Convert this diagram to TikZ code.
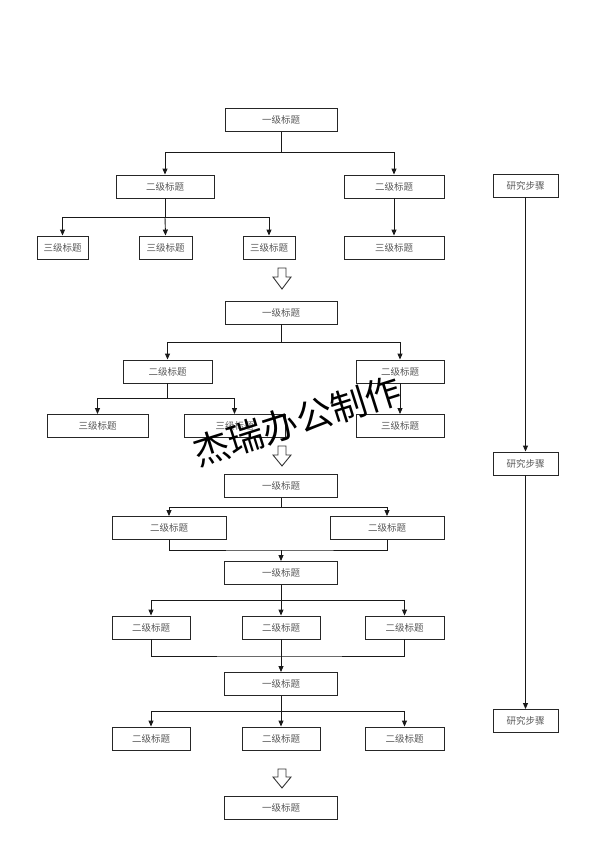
\documentclass[tikz,border=0pt]{standalone}
\usepackage{fontspec}
\newfontfamily\cjk{Noto Sans CJK SC}
\usetikzlibrary{arrows.meta}
\tikzset{
  box/.style={draw=black!85, line width=0.9pt, text=black!65, inner sep=0pt,
    minimum height=23pt, font=\cjk\fontsize{9.5}{11}\selectfont},
  conn/.style={draw=black!90, line width=0.9pt},
  arr/.style={conn, -{Triangle[length=6pt,width=5pt]}},
  hollow/.style={draw=black!80, line width=0.9pt, fill=white},
}
\begin{document}
\begin{tikzpicture}[x=1pt,y=-1pt]
\useasboundingbox (0,0) rectangle (594,841);
% section 1
\node[box, minimum width=112pt] (A1) at (281,120) {一级标题};
\node[box, minimum width=98pt] (B1) at (165,186.5) {二级标题};
\node[box, minimum width=100pt] (B2) at (394,186.5) {二级标题};
\node[box, minimum width=51pt] (C1) at (62.5,247.5) {三级标题};
\node[box, minimum width=53pt] (C2) at (165.5,247.5) {三级标题};
\node[box, minimum width=52pt] (C3) at (269,247.5) {三级标题};
\node[box, minimum width=100pt] (C4) at (394,247.5) {三级标题};
\coordinate (j1) at (281,152);
\coordinate (j2) at (165,217);
\draw[conn] (A1.south) -- (j1);
\draw[arr] (j1) -| (B1.north);
\draw[arr] (j1) -| (B2.north);
\draw[conn] (B1.south) -- (j2);
\draw[arr] (j2) -| (C1.north);
\draw[arr] (j2) -| (C3.north);
\draw[arr] (j2) -- (C2.north);
\draw[arr] (B2.south) -- (C4.north);
% hollow arrow 1
\coordinate (h1) at (282,268);
\draw[hollow] (h1) ++(-4,0) -- ++(8,0) -- ++(0,9) -- ++(5,0) -- ++(-9,12) -- ++(-9,-12) -- ++(5,0) -- cycle;
% section 2
\node[box, minimum width=112pt] (A2) at (281,312.5) {一级标题};
\node[box, minimum width=89pt] (B3) at (167.5,371.5) {二级标题};
\node[box, minimum width=88pt] (B4) at (400,371.5) {二级标题};
\node[box, minimum width=101pt] (C5) at (97.5,426) {三级标题};
\node[box, minimum width=101pt] (C6) at (234.5,426) {三级标题};
\node[box, minimum width=88pt] (C7) at (400,426) {三级标题};
\coordinate (j3) at (281,342);
\coordinate (j4) at (167.5,398);
\draw[conn] (A2.south) -- (j3);
\draw[arr] (j3) -| (B3.north);
\draw[arr] (j3) -| (B4.north);
\draw[conn] (B3.south) -- (j4);
\draw[arr] (j4) -| (C5.north);
\draw[arr] (j4) -| (C6.north);
\draw[arr] (B4.south) -- (C7.north);
% hollow arrow 2
\coordinate (h2) at (282,446);
\draw[hollow] (h2) ++(-4,0) -- ++(8,0) -- ++(0,9) -- ++(5,0) -- ++(-9,11) -- ++(-9,-11) -- ++(5,0) -- cycle;
% section 3
\node[box, minimum width=113pt] (A3) at (281,486) {一级标题};
\node[box, minimum width=114pt] (B5) at (169,528) {二级标题};
\node[box, minimum width=114pt] (B6) at (387,528) {二级标题};
\node[box, minimum width=113pt] (A4) at (281,573) {一级标题};
\coordinate (j5) at (281,507);
\coordinate (j6) at (281,550);
\draw[conn] (A3.south) -- (j5);
\draw[arr] (j5) -| (B5.north);
\draw[arr] (j5) -| (B6.north);
\draw[conn] (B5.south) |- (j6) -| (B6.south);
\draw[arr] (j6) -- (A4.north);
\node[box, minimum width=78pt] (B7) at (151,627.5) {二级标题};
\node[box, minimum width=78pt] (B8) at (281,627.5) {二级标题};
\node[box, minimum width=79pt] (B9) at (404.5,627.5) {二级标题};
\node[box, minimum width=113pt] (A5) at (281,684) {一级标题};
\coordinate (j7) at (281,600);
\coordinate (j8) at (281,656);
\draw[conn] (A4.south) -- (j7);
\draw[arr] (j7) -| (B7.north);
\draw[arr] (j7) -| (B9.north);
\draw[arr] (j7) -- (B8.north);
\draw[conn] (B7.south) |- (j8) -| (B9.south);
\draw[arr] (B8.south) -- (A5.north);
\node[box, minimum width=78pt] (B10) at (151,738.5) {二级标题};
\node[box, minimum width=78pt] (B11) at (281,738.5) {二级标题};
\node[box, minimum width=79pt] (B12) at (404.5,738.5) {二级标题};
\coordinate (j9) at (281,711);
\draw[conn] (A5.south) -- (j9);
\draw[arr] (j9) -| (B10.north);
\draw[arr] (j9) -| (B12.north);
\draw[arr] (j9) -- (B11.north);
% hollow arrow 3
\coordinate (h3) at (282,769);
\draw[hollow] (h3) ++(-4,0) -- ++(8,0) -- ++(0,8) -- ++(5,0) -- ++(-9,11) -- ++(-9,-11) -- ++(5,0) -- cycle;
\node[box, minimum width=113pt] (A6) at (281,807.5) {一级标题};
% research steps
\node[box, minimum width=65pt] (R1) at (525.5,185.5) {研究步骤};
\node[box, minimum width=65pt] (R2) at (525.5,463.5) {研究步骤};
\node[box, minimum width=65pt] (R3) at (525.5,721) {研究步骤};
\draw[arr] (R1.south) -- (R2.north);
\draw[arr] (R2.south) -- (R3.north);
% watermark
\node[rotate=17.6, font=\cjk\fontsize{36}{37}\selectfont, text=black, inner sep=0pt] (wm) at (297,421) {杰瑞办公制作};
\end{tikzpicture}
\end{document}
